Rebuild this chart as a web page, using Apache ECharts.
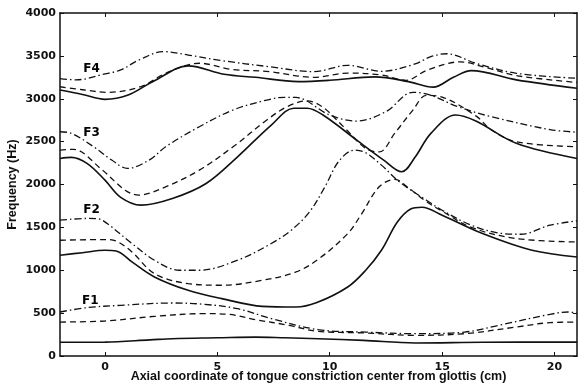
<!DOCTYPE html>
<html lang="en">
<head>
  <meta charset="UTF-8">
  <title>Formant frequencies vs constriction location</title>
  <style>
    body { margin: 0; background: #fff; }
    #chart { width: 579px; height: 387px; }
  </style>
  <script src="https://cdn.jsdelivr.net/npm/echarts@6/dist/echarts.min.js"></script>
</head>
<body>
  <div id="chart"></div>
  <script>
    // axis ticks
    var xTicks = [0, 5, 10, 15, 20];
    var yTicks = [0, 500, 1000, 1500, 2000, 2500, 3000, 3500, 4000];

    // curves: [x (cm), frequency (Hz)]
    var f1Solid = [[-2,160],[0,162],[2,188],[3,202],[5,212],[6.7,220],[8,212],[9.5,202],[11.5,182],[13.8,152],[16.8,160],[21,162]];
    var f1Dashed = [[-2,396],[0,408],[2.2,462],[4.4,494],[5.5,486],[6.7,424],[8.2,357],[9.4,290],[11.6,268],[13.8,241],[16,260],[18.3,338],[19.8,389],[21,396]];
    var f1DashDot = [[-2,513],[-0.8,564],[0.7,591],[3,618],[4.4,603],[5.9,552],[7.4,436],[9.5,307],[11.6,279],[13.8,260],[16,279],[17.5,357],[19.8,486],[20.6,513],[21,500]];

    var f2Solid = [[-2,1175],[-1,1205],[0,1233],[0.5,1225],[1.2,1097],[2.2,922],[3.7,766],[5.2,669],[7,579],[8.5,571],[9.4,620],[10.8,805],[11.6,1000],[12.3,1233],[13,1560],[13.6,1715],[14.1,1735],[15,1642],[16.8,1428],[19,1233],[21,1155]];
    var f2Dashed = [[-2,1350],[0,1358],[0.5,1340],[1.2,1214],[2.2,961],[3.7,844],[5.2,825],[7,883],[8.5,980],[9.5,1130],[10.8,1428],[11.4,1650],[12.2,1973],[12.9,2060],[13.5,1960],[14.3,1800],[15,1690],[16.3,1500],[18.3,1370],[21,1330]];
    var f2DashDot = [[-2,1584],[-0.8,1604],[-0.3,1600],[0.1,1545],[1.2,1312],[2.2,1117],[3.3,1000],[4.2,1000],[5.9,1117],[7.4,1312],[8.3,1470],[9.1,1680],[9.8,1980],[10.4,2270],[11.1,2401],[11.6,2370],[12.3,2226],[13.1,2031],[14.3,1817],[15,1700],[16.3,1525],[17.7,1428],[18.5,1420],[19.8,1525],[21,1576]];

    var f3Solid = [[-2,2304],[-1.5,2316],[-0.8,2246],[0,2051],[0.7,1850],[1.6,1759],[3,1837],[4.5,2012],[5.9,2323],[7.4,2693],[8.4,2890],[9,2890],[9.7,2810],[11.2,2518],[12.4,2285],[13.2,2148],[13.8,2320],[14.5,2596],[15.6,2810],[16.5,2740],[18.3,2480],[21,2304]];
    var f3Dashed = [[-2,2400],[-1.4,2410],[-0.2,2188],[0.9,1934],[1.5,1876],[2.7,1973],[4.2,2168],[5.7,2440],[7.2,2752],[8.1,2907],[9,2975],[9.7,2900],[10.7,2650],[11.6,2420],[12.2,2380],[12.9,2600],[13.7,2868],[14.3,3040],[15,3020],[16.5,2800],[17.2,2635],[18.3,2498],[21,2440]];
    var f3DashDot = [[-2,2615],[-1.5,2597],[-0.5,2440],[0.3,2285],[1,2188],[2,2290],[2.7,2440],[4.2,2674],[5.7,2869],[7.2,2985],[8,3017],[8.5,3015],[10,2810],[11.2,2740],[12.5,2850],[13.7,3075],[14.5,3040],[15.7,2907],[17.2,2790],[19.8,2640],[21,2610]];

    var f4Solid = [[-2,3102],[-1,3050],[0,2993],[1,3040],[2.2,3211],[3.7,3383],[5.3,3285],[6.7,3250],[8.6,3200],[10,3215],[12,3255],[13.5,3200],[14.6,3135],[15.5,3250],[16.3,3328],[18.3,3220],[21,3122]];
    var f4Dashed = [[-2,3140],[-1,3105],[0.1,3075],[1.6,3141],[2.7,3297],[4.2,3414],[5.6,3344],[7.3,3316],[9.3,3250],[10.8,3300],[12.3,3277],[13.4,3215],[14.3,3330],[15.8,3430],[17,3360],[18.3,3270],[21,3190]];
    var f4DashDot = [[-2,3235],[-1.3,3220],[0,3290],[0.7,3336],[1.5,3450],[2.6,3550],[3.7,3510],[5.2,3445],[7.3,3374],[9.3,3316],[10.8,3390],[12.3,3320],[13.8,3406],[14.5,3491],[15.2,3525],[16.5,3414],[18.3,3297],[21,3239]];

    // formant labels placed in data coordinates
    var formantLabels = [[-0.6,3344,'F4'],[-0.6,2604,'F3'],[-0.6,1701,'F2'],[-0.65,641,'F1']];

    document.addEventListener('DOMContentLoaded', function() {
      var chart = echarts.init(document.getElementById('chart'));

      var dashPattern = [6, 4];
      var dashDotPattern = [7, 3, 1.5, 3];

      function curve(data, type) {
        return {
          type: 'line',
          data: data,
          smooth: 0.35,
          showSymbol: false,
          silent: true,
          lineStyle: { color: '#111', width: type === 'solid' ? 1.6 : 1.3, type: type }
        };
      }

      var series = [
        curve(f1Solid, 'solid'), curve(f1Dashed, dashPattern), curve(f1DashDot, dashDotPattern),
        curve(f2Solid, 'solid'), curve(f2Dashed, dashPattern), curve(f2DashDot, dashDotPattern),
        curve(f3Solid, 'solid'), curve(f3Dashed, dashPattern), curve(f3DashDot, dashDotPattern),
        curve(f4Solid, 'solid'), curve(f4Dashed, dashPattern), curve(f4DashDot, dashDotPattern),
        {
          type: 'scatter',
          symbolSize: 1,
          itemStyle: { color: 'rgba(0,0,0,0)' },
          silent: true,
          data: formantLabels.map(function(d) { return { value: [d[0], d[1]], name: d[2] }; }),
          label: {
            show: true,
            position: 'inside',
            align: 'center',
            verticalAlign: 'middle',
            formatter: '{b}',
            color: '#000',
            opacity: 1,
            textBorderWidth: 0,
            fontFamily: 'DejaVu Sans',
            fontWeight: 'bold',
            fontSize: 12
          }
        }
      ];

      var tickFont = { color: '#111', fontFamily: 'DejaVu Sans', fontWeight: 'bold', fontSize: 11 };
      var nameFont = { color: '#111', fontFamily: 'Liberation Sans', fontWeight: 'bold', fontSize: 12.5 };
      var frameLine = { show: true, onZero: false, lineStyle: { color: '#111', width: 1.5 } };
      var plain = function(v) { return String(v); };

      chart.setOption({
        animation: false,
        grid: { left: 60, right: 2, top: 13, bottom: 31, containLabel: false, outerBoundsMode: 'none' },
        xAxis: [
          {
            type: 'value', min: -2, max: 21, position: 'bottom',
            axisLine: frameLine,
            axisTick: { inside: true, length: 4, customValues: xTicks, lineStyle: { color: '#111' } },
            axisLabel: Object.assign({ customValues: xTicks, margin: 6, formatter: plain }, tickFont),
            splitLine: { show: false },
            name: 'Axial coordinate of tongue constriction center from glottis (cm)',
            nameLocation: 'middle', nameGap: 14, nameMoveOverlap: false, nameTextStyle: nameFont
          },
          {
            type: 'value', min: -2, max: 21, position: 'top',
            axisLine: frameLine,
            axisTick: { inside: true, length: 4, customValues: xTicks, lineStyle: { color: '#111' } },
            axisLabel: { show: false },
            splitLine: { show: false }
          }
        ],
        yAxis: [
          {
            type: 'value', min: 0, max: 4000, interval: 500, position: 'left',
            axisLine: frameLine,
            axisTick: { inside: true, length: 4, lineStyle: { color: '#111' } },
            axisLabel: Object.assign({ margin: 4, formatter: plain }, tickFont),
            splitLine: { show: false },
            name: 'Frequency (Hz)',
            nameLocation: 'middle', nameGap: 41, nameMoveOverlap: false, nameTextStyle: nameFont
          },
          {
            type: 'value', min: 0, max: 4000, interval: 500, position: 'right',
            axisLine: frameLine,
            axisTick: { inside: true, length: 4, lineStyle: { color: '#111' } },
            axisLabel: { show: false },
            splitLine: { show: false }
          }
        ],
        series: series
      });
    });
  </script>
</body>
</html>
